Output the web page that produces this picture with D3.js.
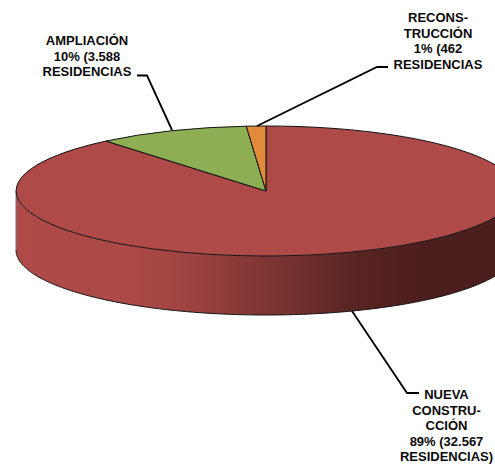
<!DOCTYPE html>
<html><head><meta charset="utf-8">
<style>html,body{margin:0;padding:0;background:#fff;overflow:hidden}svg{display:block}
text{font-family:"Liberation Sans",Arial,sans-serif;font-weight:700;font-size:13px;fill:#0a0a0a}</style>
<script src="https://cdn.jsdelivr.net/npm/d3@7"></script></head><body>
<script>
const categories = ["NUEVA CONSTRUCCIÓN","AMPLIACIÓN","RECONSTRUCCIÓN"];
const residences = [32567,3588,462];
const sliceColors = ["#AE4A48","#8DAE52","#E18A3C"];
const labelLines = [
  ["NUEVA","CONSTRU-","CCIÓN","89% (32.567","RESIDENCIAS)"],
  ["AMPLIACIÓN","10% (3.588","RESIDENCIAS"],
  ["RECONS-","TRUCCIÓN","1% (462","RESIDENCIAS"]
];
const labelAnchors = [[446.5,399],[87,45],[438,22]];
const leaders = [
  [[352,311],[407,393],[419,393]],
  [[172,130],[147,75.5],[137,75.5]],
  [[257,126],[377,67],[388,67]]
];
const W=495,H=464,cx=266,cy=191,rx=250,ry=65,depth=59;
const svg=d3.select("body").append("svg").attr("width",W).attr("height",H);
const defs=svg.append("defs");
const grad=defs.append("linearGradient").attr("id","wall").attr("gradientUnits","userSpaceOnUse")
  .attr("x1",cx-rx).attr("x2",cx+rx).attr("y1",0).attr("y2",0);
[[0,"#AE4A48"],[0.23,"#AB4947"],[0.33,"#A04543"],[0.47,"#853836"],[0.57,"#6F2F2D"],[0.67,"#5A2523"],[0.81,"#4C1E1D"],[1,"#4C1F1F"]]
 .forEach(([o,c])=>grad.append("stop").attr("offset",o).attr("stop-color",c));

const pie=d3.pie().sort(null).value(d=>d)(residences);
const px=t=>cx+rx*Math.sin(t), py=t=>cy-ry*Math.cos(t);
const ts=d3.range(Math.PI/2,3*Math.PI/2+0.005,0.01);
const wall=d3.area().x(px).y0(py).y1(t=>py(t)+depth);
svg.append("path").attr("d",wall(ts)).attr("fill","url(#wall)");
svg.append("path").attr("d",d3.line().x(px).y(t=>py(t)+depth)(ts)).attr("fill","none").attr("stroke","#111").attr("stroke-width",1);
svg.append("line").attr("x1",cx-rx).attr("x2",cx-rx).attr("y1",cy).attr("y2",cy+depth).attr("stroke","#777").attr("stroke-width",1);

const arc=d3.arc().innerRadius(0).outerRadius(1);
svg.append("g").attr("transform",`translate(${cx},${cy}) scale(${rx},${ry})`)
  .selectAll("path").data(pie).join("path")
  .attr("d",arc).attr("fill",(d,i)=>sliceColors[i])
  .attr("stroke","#111").attr("stroke-width",1).attr("vector-effect","non-scaling-stroke");

svg.append("g").selectAll("path").data(leaders).join("path")
  .attr("d",d3.line()).attr("fill","none").attr("stroke","#000").attr("stroke-width",1.8);

labelLines.forEach((lines,i)=>{
  const t=svg.append("text").attr("text-anchor","middle");
  lines.forEach((s,j)=>t.append("tspan").attr("x",labelAnchors[i][0]).attr("y",labelAnchors[i][1]+j*15.5).text(s));
});
</script></body></html>
